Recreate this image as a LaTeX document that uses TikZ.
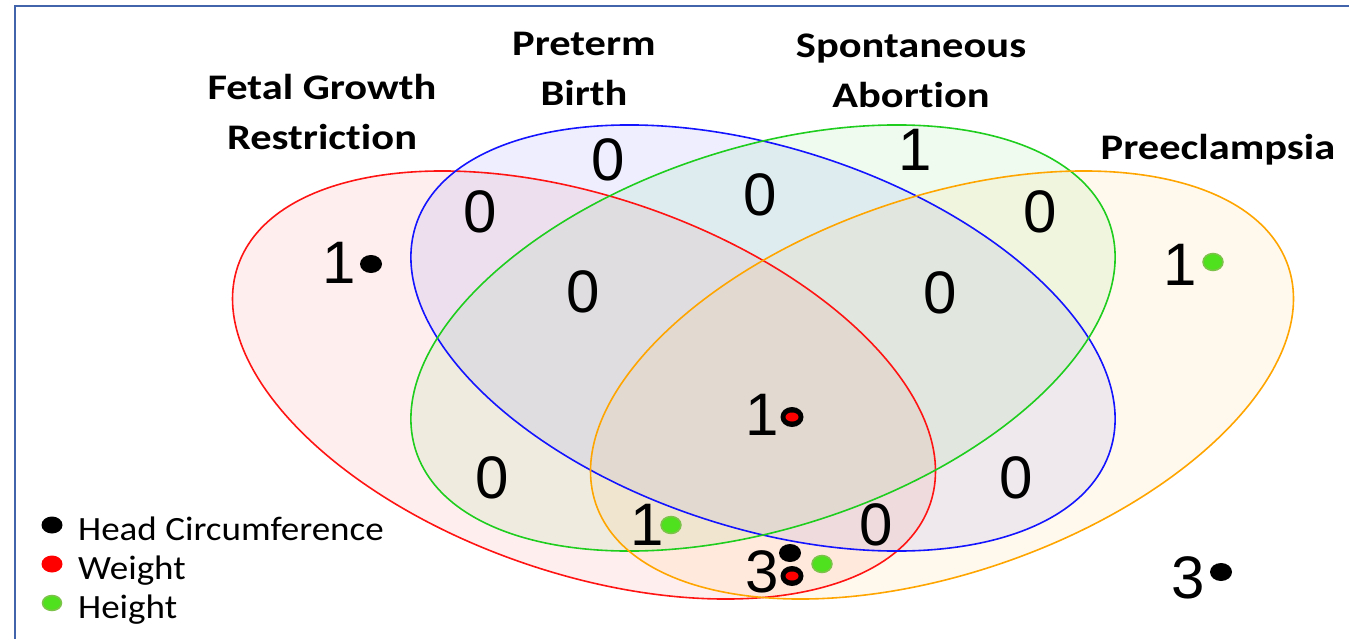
\documentclass[tikz,border=0pt]{standalone}
\usepackage{fontspec}
\setmainfont{Liberation Sans}
\newfontfamily\lblfont[FakeStretch=1.18,Ligatures=NoCommon]{Carlito}
\newfontfamily\legfont[FakeStretch=1.09,Ligatures=NoCommon]{Carlito}
\definecolor{frameblue}{RGB}{65,100,170}
\definecolor{vred}{RGB}{255,20,20}
\definecolor{vblue}{RGB}{20,20,255}
\definecolor{vgreen}{RGB}{30,205,30}
\definecolor{vorange}{RGB}{255,165,0}
\definecolor{hgreen}{RGB}{80,225,30}
\definecolor{hgreenb}{RGB}{125,195,75}
\definecolor{wred}{RGB}{255,0,0}
\begin{document}
\begin{tikzpicture}[x=1pt,y=-1pt,
  setlbl/.style={font=\lblfont\bfseries\fontsize{36}{50}\selectfont, align=center, inner sep=0},
  num/.style={font=\fontsize{60}{60}\selectfont, inner sep=0},
  leg/.style={font=\legfont\fontsize{34}{40}\selectfont, anchor=base west, inner sep=0},
  vfill/.style={fill opacity=0.07},
  vline/.style={line width=1.6pt},
]
\useasboundingbox (0,0) rectangle (1349,639);
% fills
\fill[vfill, fill=vred, rotate around={-19:(584,385)}] (584,385) ellipse [x radius=366, y radius=188];
\fill[vfill, fill=vblue, rotate around={-18:(763,338)}] (763,338) ellipse [x radius=365, y radius=190];
\fill[vfill, fill=vgreen, rotate around={18:(763,338)}] (763,338) ellipse [x radius=365, y radius=190];
\fill[vfill, fill=vorange, rotate around={19:(942,385)}] (942,385) ellipse [x radius=366, y radius=188];
% outlines
\draw[vline, vred, rotate around={-19:(584,385)}] (584,385) ellipse [x radius=366, y radius=188];
\draw[vline, vblue, rotate around={-18:(763,338)}] (763,338) ellipse [x radius=365, y radius=190];
\draw[vline, vgreen, rotate around={18:(763,338)}] (763,338) ellipse [x radius=365, y radius=190];
\draw[vline, vorange, rotate around={19:(942,385)}] (942,385) ellipse [x radius=366, y radius=188];
% frame
\draw[frameblue, line width=2.5pt] (15,639) -- (15,6) -- (1349,6);
% set labels
\node[setlbl] (lfgr) at (322,112) {Fetal Growth\\Restriction};
\node[setlbl] (lpb) at (584,69) {Preterm\\Birth};
\node[setlbl] (lsa) at (911,71) {Spontaneous\\Abortion};
\node[setlbl] (lpe) at (1218,150) {Preeclampsia};
% counts
\node[num] (nB) at (608,160) {0};
\node[num] (nG) at (915,150) {1};
\node[num] (nRB) at (480,212) {0};
\node[num] (nBG) at (760,195) {0};
\node[num] (nGO) at (1040,212) {0};
\node[num] (nR) at (339,263) {1};
\node[num] (nO) at (1180,265) {1};
\node[num] (nRBG) at (583,292) {0};
\node[num] (nBGO) at (940,293) {0};
\node[num] (nAll) at (762,415) {1};
\node[num] (nRG) at (492,478) {0};
\node[num] (nBO) at (1016,478) {0};
\node[num] (nRGO) at (647,525) {1};
\node[num] (nRBO) at (876,525) {0};
\node[num] (nRO) at (762,572) {3};
\node[num] (nOut) at (1188,578) {3};
% dots
\fill[black] (371,264) ellipse [x radius=11, y radius=9];
\filldraw[fill=hgreen, draw=hgreenb, line width=1.5pt] (1213,262) ellipse [x radius=10, y radius=8.5];
\fill[black] (792,417) ellipse [x radius=11.5, y radius=10];
\fill[wred] (792,417) ellipse [x radius=6.5, y radius=4.5];
\filldraw[fill=hgreen, draw=hgreenb, line width=1.5pt] (671,525) ellipse [x radius=10, y radius=8.5];
\fill[black] (790,553) ellipse [x radius=11, y radius=9];
\fill[black] (792,576) ellipse [x radius=11.5, y radius=10];
\fill[wred] (792,576) ellipse [x radius=6.5, y radius=4.5];
\filldraw[fill=hgreen, draw=hgreenb, line width=1.5pt] (822,564) ellipse [x radius=10, y radius=8.5];
\fill[black] (1221,572) ellipse [x radius=11, y radius=9];
% legend
\fill[black] (52,525) ellipse [x radius=10.5, y radius=8.5];
\fill[wred] (52,564) ellipse [x radius=10.5, y radius=8.5];
\filldraw[fill=hgreen, draw=hgreenb, line width=1.5pt] (52,603) ellipse [x radius=9.5, y radius=7.5];
\node[leg] (lhc) at (78,540) {Head Circumference};
\node[leg] (lw) at (78,579) {Weight};
\node[leg] (lh) at (78,618) {Height};
\end{tikzpicture}
\end{document}
